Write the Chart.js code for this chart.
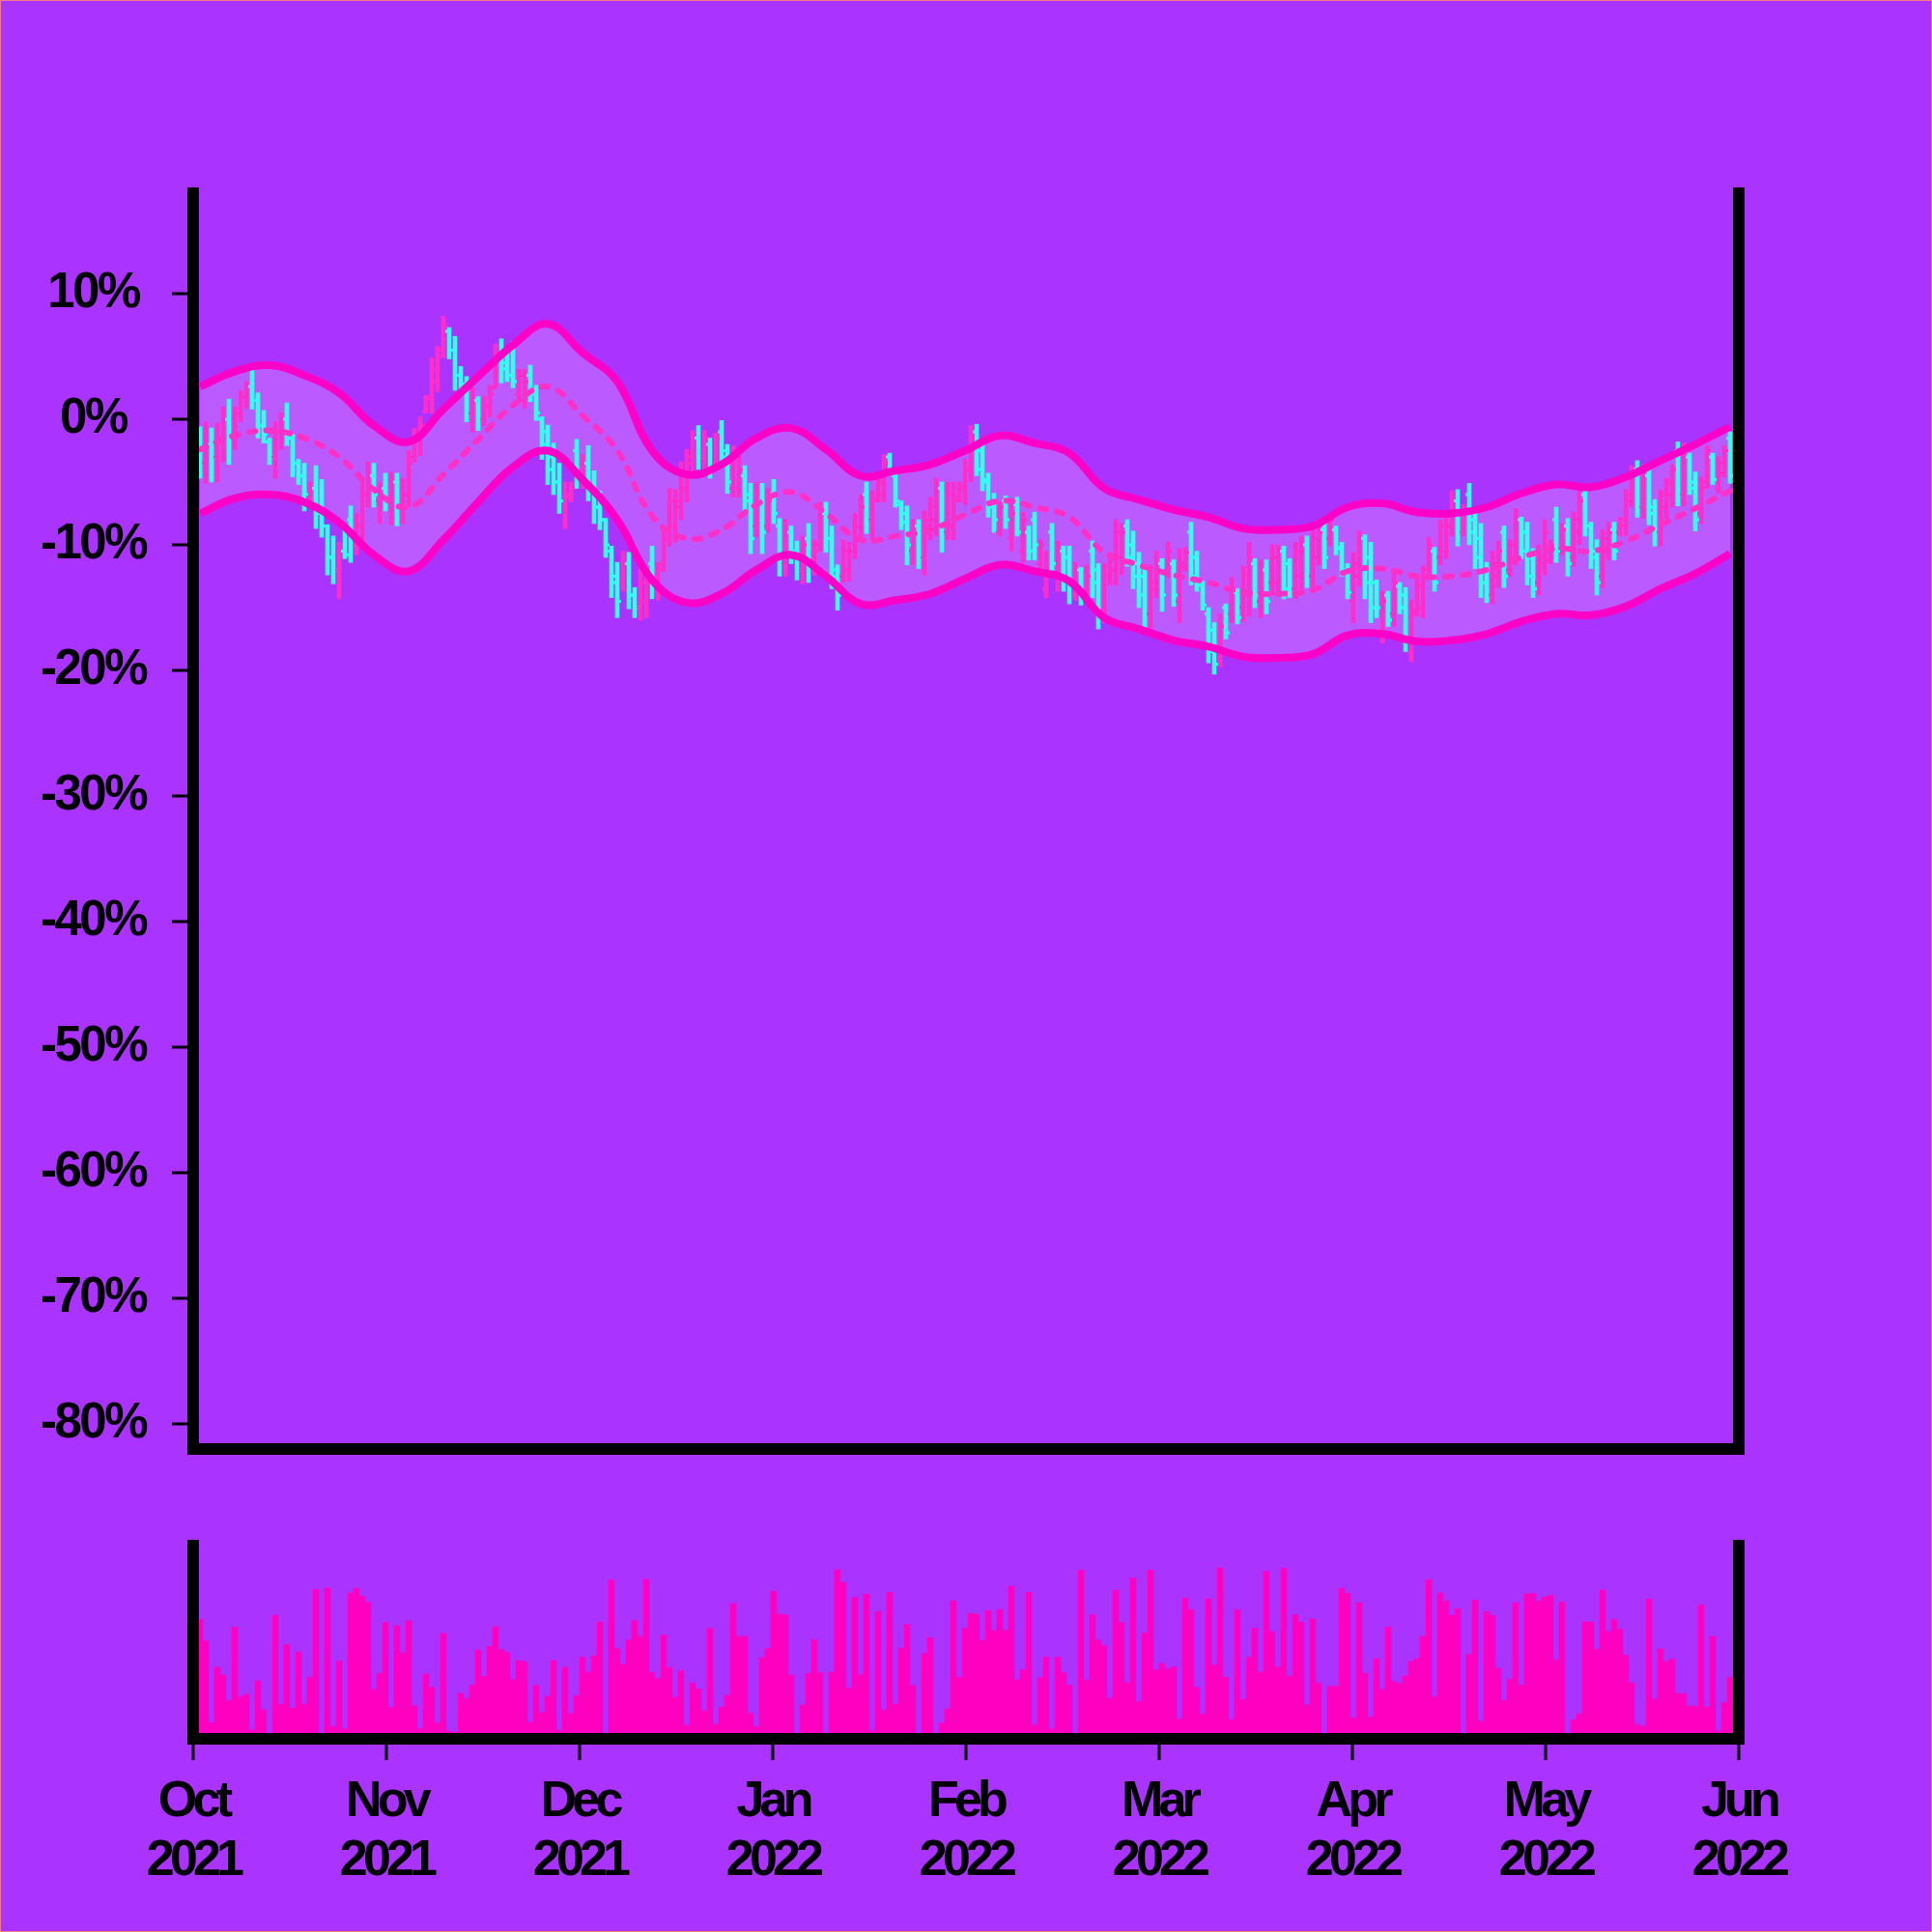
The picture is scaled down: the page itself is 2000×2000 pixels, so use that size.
<!DOCTYPE html>
<html><head><meta charset="utf-8">
<script src="https://cdn.jsdelivr.net/npm/chart.js@4.4.0/dist/chart.umd.min.js"></script>
<style>
html,body{margin:0;padding:0;background:#AA33FF;}
#wrap{position:relative;width:2000px;height:2000px;background:#AA33FF;overflow:hidden;}
#frame{position:absolute;left:0;top:0;width:2000px;height:2000px;box-sizing:border-box;border:1px solid #F27A8A;pointer-events:none;}
#c1{position:absolute;left:0;top:0;}
#c2{position:absolute;left:0;top:1550px;}
</style></head><body>
<div id="wrap"><canvas id="c1" width="2000" height="1600"></canvas><canvas id="c2" width="2000" height="450"></canvas><div id="frame"></div></div>
<script>
// ---- data (percent change) ----
const opens = [
-1.5,-3.5,-2.0,-3.0,-1.5,0.0,-1.5,0.5,1.8,2.6,
1.5,-0.5,-1.8,-3.0,-1.0,0.0,-1.5,-3.5,-4.5,-6.2,
-5.5,-7.5,-8.5,-11.0,-12.0,-10.5,-8.0,-10.0,-8.5,-6.0,
-4.5,-6.5,-5.5,-6.5,-5.0,-7.0,-6.0,-3.0,-1.5,0.6,
1.7,3.0,5.5,7.0,5.5,3.5,2.8,0.5,1.5,0.0,
1.0,2.5,5.0,4.5,5.5,2.0,1.5,3.5,2.0,0.0,
-1.0,-3.0,-5.0,-7.0,-6.2,-2.5,-5.0,-3.5,-5.5,-7.0,
-8.0,-10.5,-12.5,-13.0,-11.5,-14.0,-15.0,-14.5,-11.5,-13.5,
-11.5,-9.5,-8.5,-7.0,-5.5,-3.5,-1.5,-3.0,-2.0,-3.5,
-1.0,-2.5,-5.5,-5.5,-4.5,-6.0,-8.5,-6.5,-8.5,-6.0,
-8.5,-11.5,-9.0,-10.5,-12.0,-9.5,-12.0,-10.0,-7.5,-9.5,
-12.0,-12.5,-12.0,-10.5,-8.5,-6.0,-8.0,-6.2,-6.0,-3.0,
-4.5,-6.8,-7.5,-10.5,-8.5,-11.0,-8.5,-8.0,-5.5,-9.0,
-8.5,-6.2,-5.5,-4.0,-1.0,-2.5,-4.8,-6.5,-9.0,-6.5,
-9.5,-6.8,-10.5,-9.0,-8.0,-11.5,-13.5,-9.0,-12.5,-10.5,
-11.0,-14.0,-12.0,-14.0,-10.5,-12.0,-15.5,-12.5,-12.0,-11.0,
-8.5,-10.0,-11.5,-12.5,-15.5,-13.5,-11.5,-12.0,-11.5,-14.5,
-11.8,-9.0,-11.0,-13.2,-15.5,-16.8,-19.0,-15.0,-15.5,-13.8,
-15.0,-14.0,-11.5,-14.5,-12.0,-13.0,-13.0,-10.5,-11.5,-13.5,
-12.5,-10.0,-12.5,-11.0,-8.8,-9.5,-8.8,-10.2,-12.0,-14.5,
-12.5,-9.5,-11.0,-13.0,-17.0,-14.0,-15.5,-13.3,-14.0,-18.5,
-15.2,-15.0,-12.0,-10.5,-11.0,-10.5,-8.5,-6.5,-9.0,-6.0,
-8.0,-9.5,-12.0,-14.0,-12.5,-9.0,-12.0,-11.0,-8.0,-9.0,
-11.0,-13.0,-11.5,-11.2,-8.0,-10.3,-8.5,-11.0,-9.0,-6.0,
-8.5,-10.5,-12.5,-10.5,-8.8,-9.0,-8.5,-6.5,-4.0,-7.0,
-4.5,-7.0,-9.0,-7.0,-6.0,-2.5,-6.0,-3.0,-5.0,-7.5,
-5.0,-3.0,-5.5,-4.3,-1.5];
const highs = [
-0.6,-0.2,-0.7,-0.3,1.0,1.6,1.0,2.3,3.0,4.2,
2.1,0.7,-1.5,-0.2,0.5,1.3,-1.2,-3.2,-3.5,-5.0,
-3.7,-4.8,-8.4,-9.3,-9.8,-8.8,-6.9,-7.5,-5.0,-3.4,
-3.5,-5.0,-4.3,-4.2,-4.3,-4.7,-2.5,-0.7,0.2,1.9,
4.9,5.8,8.2,7.3,6.6,4.2,3.4,2.5,1.8,1.8,
2.7,6.0,6.4,5.5,6.2,4.0,4.0,4.3,2.7,0.2,
0.0,-1.9,-3.5,-5.0,-5.0,-1.6,-2.8,-2.1,-4.1,-5.7,
-7.9,-10.1,-11.4,-10.5,-10.6,-13.4,-11.7,-12.1,-10.1,-11.4,
-8.5,-5.5,-5.6,-3.4,-2.4,-0.9,-0.5,-0.9,-1.5,-1.1,
-0.1,-2.0,-2.1,-2.9,-3.7,-5.1,-5.0,-5.1,-5.5,-4.8,
-7.9,-8.0,-8.5,-9.7,-9.3,-8.3,-9.6,-6.6,-6.6,-8.5,
-11.6,-9.6,-9.8,-7.5,-6.0,-5.0,-5.7,-4.7,-2.8,-2.7,
-4.4,-6.5,-6.9,-8.0,-8.0,-7.3,-6.2,-4.7,-5.0,-5.0,
-5.0,-5.0,-3.2,-0.5,-0.4,-2.0,-4.3,-5.9,-6.6,-6.1,
-6.6,-6.2,-7.4,-8.5,-7.4,-9.6,-10.5,-8.3,-9.7,-10.1,
-10.1,-11.4,-11.8,-11.6,-9.7,-11.5,-11.5,-10.6,-8.0,-8.3,
-8.0,-8.9,-10.6,-11.9,-11.6,-10.5,-11.1,-9.8,-11.2,-10.3,
-10.2,-8.2,-10.5,-12.9,-15.0,-16.2,-15.5,-14.7,-12.6,-13.5,
-11.7,-9.8,-11.1,-11.2,-11.2,-10.0,-10.0,-10.1,-11.1,-9.8,
-9.3,-9.3,-8.8,-8.5,-8.3,-7.5,-8.5,-9.8,-11.5,-10.6,
-8.9,-9.2,-9.8,-12.8,-13.7,-13.7,-12.1,-13.0,-13.4,-14.4,
-12.6,-11.7,-9.4,-10.2,-8.0,-7.8,-5.7,-5.6,-6.8,-5.1,
-7.3,-8.3,-11.4,-10.5,-9.7,-8.5,-9.6,-7.1,-7.8,-8.2,
-10.3,-10.0,-8.0,-9.6,-7.0,-8.3,-7.9,-7.4,-5.7,-5.5,
-8.2,-9.6,-8.8,-8.2,-8.2,-7.8,-5.6,-3.7,-3.3,-3.6,
-3.7,-6.4,-5.6,-4.7,-3.6,-1.8,-1.9,-2.7,-4.2,-4.6,
-2.1,-2.7,-3.0,-2.1,-1.0];
const lows = [
-4.7,-5.1,-5.0,-5.0,-3.4,-3.6,-2.4,-0.2,0.9,0.8,
-1.5,-1.9,-3.6,-4.7,-2.4,-2.1,-4.6,-5.2,-7.3,-6.6,
-8.7,-9.4,-12.4,-13.1,-14.3,-11.1,-11.4,-10.8,-10.1,-7.0,
-7.0,-8.3,-7.3,-8.4,-8.5,-8.3,-7.0,-3.4,-2.9,0.5,
0.5,2.2,4.9,4.8,2.3,2.3,-0.2,-1.0,-0.9,-0.5,
0.2,2.5,2.9,3.0,2.5,1.4,0.9,1.4,-0.1,-3.2,
-5.2,-6.0,-7.5,-8.7,-6.6,-5.5,-5.5,-6.5,-8.3,-8.8,
-11.0,-14.2,-15.8,-13.7,-15.1,-15.8,-16.0,-15.8,-14.3,-14.4,
-12.1,-10.1,-9.8,-8.0,-6.6,-4.4,-4.0,-4.0,-4.7,-3.8,
-3.7,-5.9,-6.2,-6.2,-7.5,-10.7,-9.4,-10.7,-9.0,-8.3,
-12.5,-12.5,-11.5,-12.8,-13.1,-13.0,-12.4,-10.5,-10.6,-13.5,
-15.2,-13.0,-12.9,-11.1,-9.6,-9.1,-9.6,-6.6,-6.6,-4.5,
-7.0,-8.8,-11.6,-11.6,-11.9,-12.4,-9.6,-9.3,-10.6,-9.6,
-9.6,-6.6,-6.8,-5.0,-4.5,-5.7,-7.8,-9.0,-9.3,-8.7,
-10.5,-9.3,-11.4,-11.2,-11.2,-12.0,-14.2,-12.1,-13.7,-13.7,
-14.7,-14.4,-14.8,-14.2,-14.2,-16.7,-16.2,-13.2,-13.2,-12.4,
-11.7,-13.5,-15.0,-16.6,-16.7,-14.2,-15.3,-12.6,-14.9,-16.2,
-12.1,-13.2,-13.7,-15.2,-19.4,-20.3,-19.7,-17.5,-16.2,-16.3,
-16.1,-15.7,-15.0,-15.8,-15.5,-14.0,-13.7,-14.3,-14.2,-14.3,
-13.7,-13.4,-13.5,-11.6,-11.9,-10.1,-10.8,-12.5,-14.3,-16.2,
-13.3,-14.3,-16.2,-15.8,-17.8,-16.5,-16.5,-15.5,-18.5,-19.3,
-15.7,-15.8,-12.6,-13.7,-11.6,-11.1,-9.3,-10.1,-9.3,-10.0,
-11.9,-14.2,-14.6,-14.7,-13.4,-13.4,-12.5,-11.6,-11.1,-13.2,
-14.2,-14.0,-12.4,-11.5,-11.4,-10.8,-12.5,-11.7,-10.0,-9.3,
-11.9,-14.0,-13.4,-11.2,-11.2,-9.3,-9.3,-7.0,-7.8,-7.9,
-8.4,-10.1,-10.1,-7.9,-7.0,-6.9,-6.9,-6.0,-8.9,-8.3,
-5.5,-5.2,-5.9,-4.6,-5.1];
const closes = [
-3.5,-2.0,-3.0,-1.5,0.0,-1.5,0.5,1.8,2.6,1.5,
-0.5,-1.2,-3.0,-1.0,0.0,-1.5,-3.5,-4.5,-6.0,-5.5,
-7.5,-8.5,-11.0,-12.0,-10.5,-10.8,-10.0,-8.5,-6.0,-4.5,
-6.0,-6.0,-6.5,-5.0,-7.0,-6.0,-3.5,-1.5,-0.5,1.7,
4.0,5.0,7.5,5.5,3.5,2.8,0.5,1.5,0.0,1.0,
2.0,5.0,4.0,3.5,3.0,3.5,3.0,2.0,0.5,-2.0,
-4.0,-5.0,-6.5,-6.0,-5.5,-4.5,-3.5,-5.5,-7.0,-8.0,
-10.0,-13.0,-14.5,-11.5,-14.0,-15.0,-13.0,-13.0,-13.5,-12.0,
-9.0,-6.5,-6.5,-4.5,-3.0,-1.5,-3.0,-1.5,-4.0,-1.5,
-3.0,-5.0,-3.0,-4.0,-6.5,-9.5,-6.5,-9.0,-6.5,-7.5,
-11.5,-9.0,-10.5,-12.0,-10.0,-12.0,-10.5,-7.5,-9.5,-12.5,
-14.0,-10.5,-10.5,-8.5,-7.0,-8.0,-6.5,-5.0,-3.5,-4.0,
-6.5,-8.2,-10.0,-8.5,-11.0,-8.0,-7.0,-5.5,-9.0,-6.0,
-6.5,-5.3,-4.0,-1.5,-4.0,-5.0,-7.0,-8.0,-7.0,-8.0,
-7.5,-9.0,-8.0,-10.5,-10.0,-10.0,-12.5,-11.5,-10.5,-13.0,
-14.0,-12.0,-14.0,-12.5,-13.0,-15.5,-12.5,-11.0,-9.0,-9.0,
-11.0,-12.5,-14.0,-15.5,-13.0,-11.5,-14.0,-10.5,-14.0,-11.5,
-10.6,-12.5,-13.0,-14.8,-18.5,-19.5,-16.5,-17.0,-13.5,-15.8,
-12.5,-11.0,-14.0,-12.0,-14.5,-11.0,-10.5,-13.5,-13.5,-10.5,
-10.0,-12.5,-9.5,-9.0,-11.0,-8.0,-10.3,-12.0,-13.8,-11.5,
-9.5,-13.0,-15.0,-15.0,-14.5,-16.0,-13.0,-15.0,-17.5,-15.5,
-13.2,-12.5,-10.0,-13.0,-8.5,-8.5,-6.5,-9.0,-7.5,-9.0,
-11.0,-13.0,-14.0,-11.5,-10.5,-12.5,-10.0,-8.0,-10.5,-12.5,
-13.5,-11.0,-9.0,-10.0,-10.5,-8.8,-11.5,-8.0,-6.5,-8.5,
-11.0,-13.0,-9.5,-9.0,-10.5,-8.0,-6.0,-4.5,-7.0,-4.5,
-7.5,-9.0,-6.0,-5.0,-4.0,-6.0,-2.5,-5.5,-8.0,-5.5,
-2.5,-4.8,-3.5,-2.5,-4.5];
const volumes = [
61.7,50.8,8.3,37,33,19.7,57.8,21.7,23,4.5,
30,15,0,64,17.8,48.7,15.8,45,18,32,
77.3,0,78,6.3,40.3,5,75.5,77.7,73.7,70.7,
25.5,33.7,60.2,16.2,58.5,44.5,61,17.2,5.2,33.5,
26.7,8.2,54.5,4,3.3,23.5,20.8,27.7,46,32.3,
47.8,58,46.2,44.7,30.5,40.5,40,8.5,27.7,13.5,
22,40.5,4.3,37,13,22.3,42.2,34.5,43,60.5,
0,82.2,46.7,38.5,51.2,61.2,53,82.5,34.3,31.2,
53.8,36.8,21.5,35.3,7,29,25.8,14.5,57.2,7.5,
16.3,22.5,70,53,53,13.3,6.3,42,46.7,76.3,
64.5,64.2,33,0,17.5,33.8,51.2,34.3,0,34.5,
87.5,81,26.2,73.2,33.2,74.8,4.2,65.8,15,75.7,
18,47,59.2,27.5,0,44.2,52.3,0,8.2,15.5,
71.5,32,57.2,65,64.5,51,66.3,56,67,56.3,
79,30.5,35.7,75.8,7.3,31.7,42.2,5.2,42.2,34.3,
27.8,0,87.3,30.3,64.2,51,48.3,21,76.8,60.3,
29,83.2,19.3,54.8,87.3,35.7,39,36.2,37.3,10.2,
72.7,66.8,26.7,12.8,72.5,38.2,88.5,31.8,10,66.7,
20.3,42.3,57.3,34.5,86.7,55.5,37.2,88.2,32.5,64.2,
60.3,17.5,62,28.8,0,27.2,27.2,78,75.3,10.7,
70.5,34,11.3,41.5,25.5,57.8,29.7,28.8,32.5,40.2,
41.5,53,82.3,21.7,75.5,71.3,64,67.3,0,43.8,
71.7,9.2,65.8,64,36.5,19.7,30.8,70.5,27.7,75,
75.3,71.3,73.3,74.3,40.8,70.8,0,9.8,13,60.5,
60.3,46.3,77,55.5,61.7,56.7,43.3,29,7.5,6.5,
72.3,20.5,46.5,40,41.3,23.5,23.5,17,17,69.3,
16.5,53,4,18.7,32];
// Bollinger band readings, sampled every 6 bars
const bandIdx = [0,6,12,18,24,30,36,42,48,54,60,66,72,78,84,90,96,102,108,114,120,126,132,138,144,150,156,162,168,174,180,186,192,198,204,210,216,222,228,234,240,246,252,258,264];
const bandUpper = [2.6,3.8,4.3,3.5,2.1,-0.5,-1.8,0.8,3.4,5.9,7.6,5.3,3.0,-2.5,-4.4,-3.6,-1.5,-0.7,-2.4,-4.5,-4.1,-3.6,-2.5,-1.3,-1.9,-2.7,-5.5,-6.4,-7.2,-7.8,-8.7,-8.8,-8.5,-7.0,-6.7,-7.4,-7.5,-7.0,-5.9,-5.2,-5.4,-4.6,-3.3,-2.0,-0.6];
const bandMid = [-2.4,-1.3,-0.9,-1.5,-3.0,-5.6,-7.0,-4.4,-1.6,1.1,2.6,0.3,-2.5,-7.7,-9.5,-8.8,-6.8,-5.8,-7.5,-9.6,-9.3,-8.8,-7.6,-6.5,-7.0,-7.8,-10.6,-11.6,-12.4,-13.0,-13.8,-13.9,-13.6,-12.1,-11.9,-12.5,-12.5,-12.0,-11.0,-10.3,-10.5,-9.7,-8.4,-7.1,-5.7];
const bandLower = [-7.5,-6.3,-6.0,-6.6,-8.2,-10.8,-12.1,-9.6,-6.6,-3.8,-2.5,-4.8,-8.0,-12.8,-14.6,-13.9,-12.0,-10.8,-12.5,-14.7,-14.4,-13.9,-12.7,-11.6,-12.1,-12.9,-15.8,-16.7,-17.6,-18.1,-18.9,-19.0,-18.7,-17.2,-17.1,-17.7,-17.6,-17.1,-16.1,-15.5,-15.6,-14.9,-13.5,-12.3,-10.7];
const yTicks = [-80,-70,-60,-50,-40,-30,-20,-10,0,10];
const xTickLabels = [['Oct','2021'],['Nov','2021'],['Dec','2021'],['Jan','2022'],['Feb','2022'],['Mar','2022'],['Apr','2022'],['May','2022'],['Jun','2022']];

// ---- styling ----
const UP = '#FF2ECB', DOWN = '#33FFEE', BAND = '#FF00C8', MID = '#FF30C8', VOL = '#FF00C0';
const FONT = 'Liberation Sans';
const X_MIN = -7/6, X_MAX = 265.5;
Chart.defaults.font.family = FONT;
Chart.defaults.color = '#000';

const idx = opens.map((_, i) => i);
const barColors = idx.map(i => closes[i] >= opens[i] ? UP : DOWN);
const band = arr => bandIdx.map((k, i) => ({x: k, y: arr[i]}));

// axis frame lines drawn above the data (z: 1)
const blackBorder = {display: true, color: '#000', width: 12, z: 1};
const fixW = w => (s => { s.width = w; });
// tight tracking for the bold tick labels
const tracking = ls => ({id: 'tracking', beforeDraw(chart) { chart.ctx.letterSpacing = ls; }});

new Chart(document.getElementById('c1'), {
  type: 'bar',
  data: {
    datasets: [
      {type: 'line', label: 'upper', data: band(bandUpper), borderColor: BAND, borderWidth: 8, pointRadius: 0, tension: 0.4, fill: false, order: 0},
      {type: 'line', label: 'lower', data: band(bandLower), borderColor: BAND, borderWidth: 8, pointRadius: 0, tension: 0.4, fill: '-1', backgroundColor: 'rgba(255,255,255,0.2)', order: 0},
      {type: 'line', label: 'mid', data: band(bandMid), borderColor: MID, borderWidth: 6, borderDash: [7, 11], borderCapStyle: 'round', pointRadius: 0, tension: 0.4, fill: false, order: 0},
      {type: 'bar', label: 'range', data: idx.map(i => ({x: i, y: [lows[i], highs[i]]})), backgroundColor: barColors, borderWidth: 0, barThickness: 4, order: 2},
      {type: 'line', label: 'open', data: idx.map(i => ({x: i - 0.33, y: opens[i]})), showLine: false, pointStyle: 'line', pointRadius: 2, pointBorderWidth: 3, pointBorderColor: barColors, pointBackgroundColor: barColors, order: 1},
      {type: 'line', label: 'close', data: idx.map(i => ({x: i + 0.33, y: closes[i]})), showLine: false, pointStyle: 'line', pointRadius: 2, pointBorderWidth: 3, pointBorderColor: barColors, pointBackgroundColor: barColors, order: 1}
    ]
  },
  plugins: [tracking('-2.5px')],
  options: {
    responsive: false, animation: false, devicePixelRatio: 1,
    layout: {padding: {left: 0, right: 200, top: 200, bottom: 100}},
    plugins: {legend: {display: false}, tooltip: {enabled: false}, filler: {drawTime: 'beforeDatasetsDraw'}},
    scales: {
      x: {type: 'linear', min: X_MIN, max: X_MAX, offset: false,
          ticks: {display: false}, grid: {display: false, lineWidth: 12, offset: false},
          border: blackBorder, afterFit: s => { s.height = 0; }},
      y: {type: 'linear', position: 'left', min: -82, max: 18,
          afterBuildTicks: s => { s.ticks = yTicks.map(v => ({value: v})); },
          ticks: {callback: v => v + '%', color: '#000', padding: 22, crossAlign: 'center', font: {family: FONT, weight: 'bold', size: 51}},
          grid: {display: true, drawOnChartArea: false, drawTicks: true, tickLength: 22, tickWidth: 3, tickColor: '#000', lineWidth: 12},
          border: blackBorder, afterFit: fixW(200)},
      yR: {type: 'linear', position: 'right', min: -82, max: 18,
          ticks: {display: false}, grid: {display: false, lineWidth: 12},
          border: blackBorder, afterFit: fixW(0)}
    }
  }
});

new Chart(document.getElementById('c2'), {
  type: 'bar',
  data: {
    datasets: [
      {label: 'volume', data: idx.map(i => ({x: i, y: volumes[i]})), backgroundColor: VOL, borderWidth: 0, barThickness: 6}
    ]
  },
  plugins: [tracking('-4.8px')],
  options: {
    responsive: false, animation: false, devicePixelRatio: 1,
    layout: {padding: {left: 0, right: 200, top: 50, bottom: 0}},
    plugins: {legend: {display: false}, tooltip: {enabled: false}},
    scales: {
      x: {type: 'linear', min: X_MIN, max: X_MAX, offset: false,
          afterBuildTicks: s => { s.ticks = xTickLabels.map((_, m) => ({value: X_MIN + m * (X_MAX - X_MIN) / (xTickLabels.length - 1)})); },
          ticks: {autoSkip: false, maxRotation: 0, minRotation: 0, padding: 13, color: '#000',
                  callback: (v, i) => xTickLabels[i], font: {family: FONT, weight: 'bold', size: 52, lineHeight: 1.17}},
          grid: {display: true, drawOnChartArea: false, drawTicks: true, tickLength: 22, tickWidth: 3, tickColor: '#000', lineWidth: 12, offset: false},
          border: blackBorder, afterFit: s => { s.height = 200; }},
      y: {type: 'linear', position: 'left', min: 0, max: 100,
          ticks: {display: false}, grid: {display: false, lineWidth: 12},
          border: blackBorder, afterFit: fixW(200)},
      yR: {type: 'linear', position: 'right', min: 0, max: 100,
          ticks: {display: false}, grid: {display: false, lineWidth: 12},
          border: blackBorder, afterFit: fixW(0)}
    }
  }
});
</script>
</body></html>
